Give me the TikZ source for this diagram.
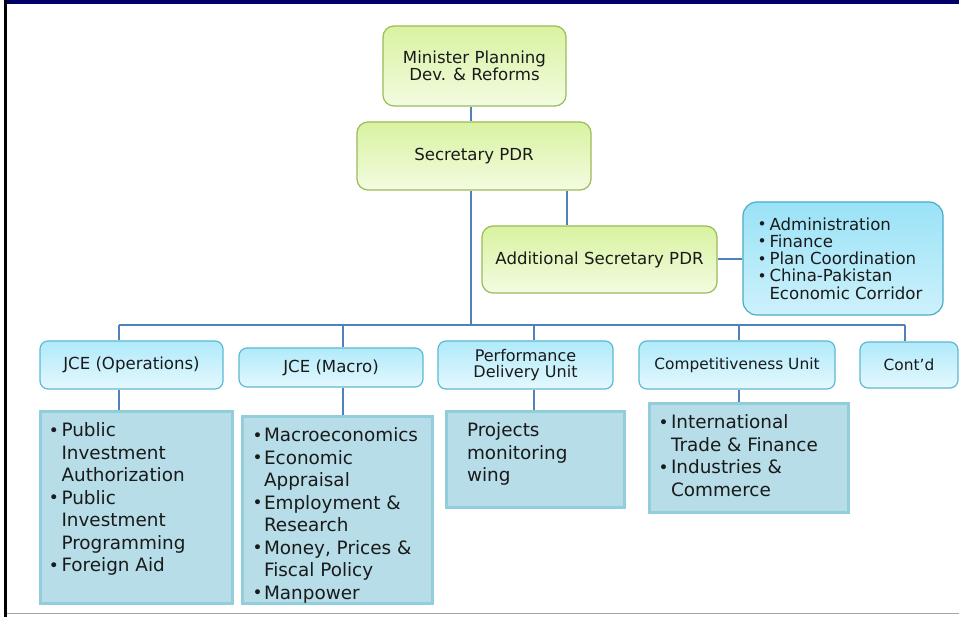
\documentclass[tikz,border=0pt]{standalone}
\usepackage{fontspec}
\usepackage{graphicx}
\setmainfont{DejaVu Sans}
\usetikzlibrary{backgrounds}
\definecolor{gtop}{HTML}{D8F3A0}
\definecolor{gbot}{HTML}{F3FBE1}
\definecolor{gborder}{HTML}{9BBB59}
\definecolor{btop}{HTML}{B0EAFA}
\definecolor{bbot}{HTML}{E4F8FE}
\definecolor{bborder}{HTML}{5DB9D3}
\definecolor{atop}{HTML}{9AE2F7}
\definecolor{abot}{HTML}{CDF1FB}
\definecolor{aborder}{HTML}{4BACC6}
\definecolor{lfill}{HTML}{B6DDE8}
\definecolor{lborder}{HTML}{92CDDC}
\definecolor{lineblue}{HTML}{4F81BD}
\definecolor{txt}{HTML}{1A1A1A}
\definecolor{navybar}{HTML}{000066}
\definecolor{bottomgray}{HTML}{A6A6A6}
\newcommand\bul{\raisebox{0.03em}{\scalebox{0.92}{•}}}
\newcommand\itm[2][12.5pt]{\par\hangindent=#1\hangafter=1\noindent\makebox[#1][l]{\bul}#2}
\newcommand\lbtext[4]{\parbox[c][#1][t]{#2}{\raggedright\leftskip=#3\relax\vspace*{11pt}#4\par}}
\begin{document}
\begin{tikzpicture}[x=1pt,y=-1pt,
  conn/.style={draw=lineblue, line width=2pt},
  gbox/.style={draw=gborder, line width=1.2pt, rounded corners=11pt, top color=gtop, bottom color=gbot, inner sep=0pt, align=center, text=txt, font=\fontsize{16.6}{17}\selectfont},
  bbox/.style={draw=bborder, line width=1.2pt, rounded corners=8pt, top color=btop, bottom color=bbot, inner sep=0pt, align=center, text=txt, font=\fontsize{16.6}{17}\selectfont},
  abox/.style={draw=aborder, line width=1.2pt, rounded corners=14pt, top color=atop, bottom color=abot, inner sep=0pt, text=txt, font=\fontsize{16.6}{17.3}\selectfont},
  lbox/.style={draw=lborder, line width=3pt, fill=lfill, inner sep=0pt, text=txt, font=\fontsize{18.4}{22.5}\selectfont}]
\useasboundingbox (0,0) rectangle (959,617);
\fill[white] (0,0) rectangle (959,617);
% frame
\fill[navybar] (7,0) rectangle (959,4.5);
\fill[black] (4,0) rectangle (7,617);
\fill[bottomgray] (7,612.5) rectangle (959,614);

% coordinates for connector routes
\coordinate (tx) at (471,0);
\coordinate (s2) at (567,0);
\coordinate (bL) at (119,325);
\coordinate (d2) at (343,325);
\coordinate (d3) at (534,325);
\coordinate (d4) at (739,325);
\coordinate (bR) at (905,325);

% nodes
\node[gbox, minimum width=183pt, minimum height=80pt] (min) at (474.5,66) {Minister Planning\\Dev. \& Reforms};
\node[gbox, minimum width=234pt, minimum height=68pt] (sec) at (474,156) {Secretary PDR};
\node[gbox, minimum width=235pt, minimum height=67pt] (add) at (599.5,259.5) {Additional Secretary PDR};
\node[abox, minimum width=200pt, minimum height=113pt] (adm) at (843,258.5)
  {\parbox{171pt}{\raggedright\itm[12pt]{Administration}\itm[12pt]{Finance}\itm[12pt]{Plan Coordination}\itm[12pt]{China-Pakistan\newline Economic Corridor}\par}};

\node[bbox, minimum width=183pt, minimum height=48pt] (ops) at (131.5,365) {JCE (Operations)};
\node[bbox, minimum width=184pt, minimum height=39pt] (mac) at (331,367.5) {JCE (Macro)};
\node[bbox, minimum width=175pt, minimum height=48pt, font=\fontsize{16}{16.7}\selectfont] (pdu) at (525.5,365) {Performance\\Delivery Unit};
\node[bbox, minimum width=196pt, minimum height=48pt, font=\fontsize{15.4}{16}\selectfont] (cu) at (737,365) {Competitiveness Unit};
\node[bbox, minimum width=98pt, minimum height=46pt, font=\fontsize{15.4}{16}\selectfont] (cnt) at (909,365) {Cont’d};

\node[lbox] (b1) at (136,507.5) {\lbtext{191pt}{192pt}{9pt}{%
  \itm{Public\newline Investment\newline Authorization}\itm{Public\newline Investment\newline Programming}\itm{Foreign Aid}}};
\node[lbox] (b2) at (337,510) {\lbtext{186pt}{190pt}{10.5pt}{%
  \itm[11.5pt]{Macroeconomics}\itm[11.5pt]{Economic\newline Appraisal}\itm[11.5pt]{Employment \&\newline Research}\itm[11.5pt]{Money, Prices \&\newline Fiscal Policy}\itm[11.5pt]{Manpower}}};
\node[lbox] (b3) at (535,459.5) {\lbtext{95pt}{178pt}{21pt}{%
  \noindent Projects\newline monitoring\newline wing}};
\node[lbox] (b4) at (748.5,458) {\lbtext{108pt}{199pt}{9.5pt}{%
  \itm{International\newline Trade \& Finance}\itm{Industries \&\newline Commerce}}};

% square backgrounds behind rounded boxes
\begin{scope}[on background layer]
\foreach \n/\ct/\cb in {min/gtop/gbot,sec/gtop/gbot,add/gtop/gbot,adm/atop/abot,ops/btop/bbot,mac/btop/bbot,pdu/btop/bbot,cu/btop/bbot,cnt/btop/bbot}
  \shade[top color=\ct, bottom color=\cb] (\n.north west) rectangle (\n.south east);
\end{scope}

% connectors
\draw[conn] (min.south -| tx) -- (sec.north -| tx);
\draw[conn] (sec.south -| tx) -- (tx |- bL);
\draw[conn] (sec.south -| s2) -- (add.north -| s2);
\draw[conn] (add.east) -- (add.east -| adm.west);
\draw[conn] (bL) -- (bR);
\draw[conn] (bL) -- (ops.north -| bL);
\draw[conn] (ops.south -| bL) -- (b1.north -| bL);
\draw[conn] (d2) -- (mac.north -| d2);
\draw[conn] (mac.south -| d2) -- (b2.north -| d2);
\draw[conn] (d3) -- (pdu.north -| d3);
\draw[conn] (pdu.south -| d3) -- (b3.north -| d3);
\draw[conn] (d4) -- (cu.north -| d4);
\draw[conn] (cu.south -| d4) -- (b4.north -| d4);
\draw[conn] (bR) -- (cnt.north -| bR);
\end{tikzpicture}
\end{document}
